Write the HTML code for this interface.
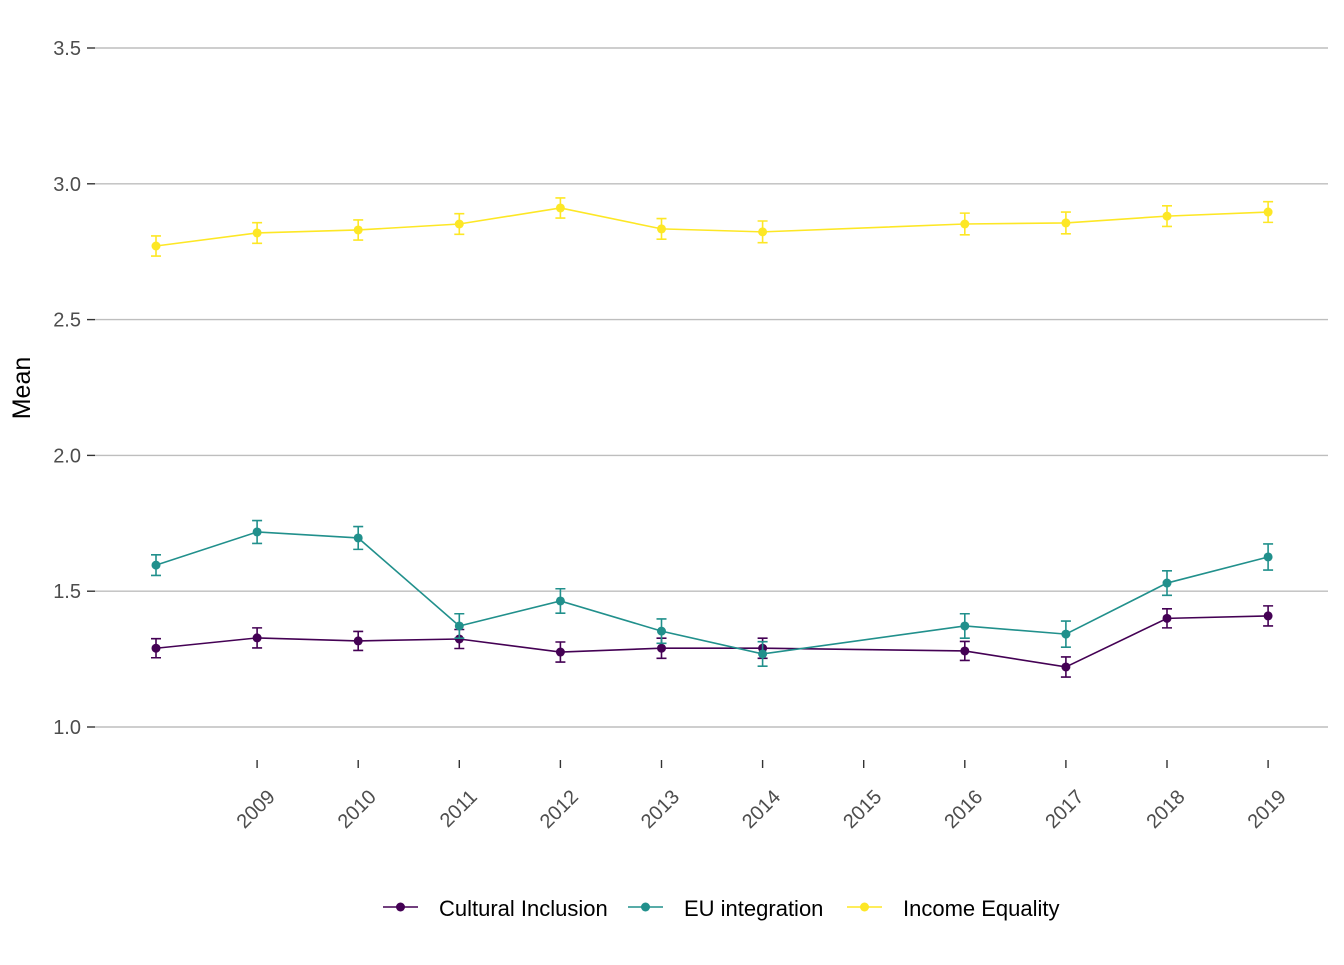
<!DOCTYPE html>
<html><head><meta charset="utf-8"><style>
html,body{margin:0;padding:0;background:#fff;}
svg text{font-family:"Liberation Sans",Arial,sans-serif;}
</style></head><body>
<svg id="chart" width="1344" height="960" viewBox="0 0 1344 960" xmlns="http://www.w3.org/2000/svg">
<g id="grid"></g>
<g id="yaxis"></g>
<g id="xaxis"></g>
<g id="series"></g>
<text x="0" y="0" transform="translate(30,388) rotate(-90)" text-anchor="middle" font-size="25" fill="#000">Mean</text>
<g id="legend"></g>
</svg>
<script>
const years = [2008,2009,2010,2011,2012,2013,2014,2016,2017,2018,2019];
const xTicks = [2009,2010,2011,2012,2013,2014,2015,2016,2017,2018,2019];
const yTicks = [1.0,1.5,2.0,2.5,3.0,3.5];
const seriesNames = ["Cultural Inclusion","EU integration","Income Equality"];
const cultural = [1.29,1.328,1.317,1.324,1.276,1.29,1.29,1.28,1.221,1.40,1.409];
const eu = [1.596,1.718,1.696,1.372,1.464,1.353,1.269,1.372,1.342,1.530,1.626];
const income = [2.771,2.819,2.830,2.852,2.911,2.834,2.823,2.852,2.856,2.881,2.896];
const culturalErr = [0.035,0.037,0.035,0.035,0.037,0.037,0.037,0.035,0.037,0.035,0.037];
const euErr = [0.038,0.042,0.042,0.045,0.045,0.045,0.045,0.045,0.048,0.045,0.048];
const incomeErr = [0.037,0.038,0.037,0.038,0.037,0.038,0.04,0.04,0.04,0.038,0.038];

const NS="http://www.w3.org/2000/svg";
const colors=["#440154","#21908C","#FDE725"];
const x=v=>156+(v-2008)*101.1;
const y=v=>727-(v-1.0)*271.6;
function mk(tag,attrs,parent){const e=document.createElementNS(NS,tag);for(const k in attrs)e.setAttribute(k,attrs[k]);parent.appendChild(e);return e;}
const grid=document.getElementById('grid'),ya=document.getElementById('yaxis'),xa=document.getElementById('xaxis'),sg=document.getElementById('series'),lg=document.getElementById('legend');
yTicks.forEach(t=>{
  const l=mk('line',{x1:95,x2:1328,y1:y(t),y2:y(t),stroke:"#bebebe","stroke-width":1.4},grid);
  
  
  const tk=mk('line',{x1:87,x2:95,y1:y(t),y2:y(t),stroke:"#333","stroke-width":1.4},ya);
  
  
  const tx=mk('text',{x:81,y:y(t)+7,"text-anchor":"end","font-size":20,fill:"#4d4d4d"},ya);
  tx.textContent=t.toFixed(1);
  
  
});
xTicks.forEach(t=>{
  const tk=mk('line',{x1:x(t),x2:x(t),y1:760,y2:768,stroke:"#333","stroke-width":1.4},xa);
  
  
  const tx=mk('text',{x:0,y:0,"text-anchor":"end","font-size":20,fill:"#4d4d4d",transform:`translate(${x(t)+19},${798}) rotate(-45)`},xa);
  tx.textContent=t;
  
  
});
const allVals=[cultural,eu,income],allErr=[culturalErr,euErr,incomeErr];
allVals.forEach((vals,si)=>{
  const g=mk('g',{},sg);
  
  
  const c=colors[si];
  const pl=mk('polyline',{points:vals.map((v,i)=>x(years[i])+','+y(v)).join(' '),fill:"none",stroke:c,"stroke-width":1.6},g);
  
  
  vals.forEach((v,i)=>{
    const e=allErr[si][i],cx=x(years[i]);
    const eb=mk('path',{d:`M${cx-5},${y(v+e)}H${cx+5}M${cx},${y(v+e)}V${y(v-e)}M${cx-5},${y(v-e)}H${cx+5}`,stroke:c,"stroke-width":1.6,fill:"none"},g);
    
    
    const pt=mk('circle',{cx:cx,cy:y(v),r:4.5,fill:c},g);
    
    
  });
});
const lx=[383,628,847];
seriesNames.forEach((n,i)=>{
  const g=mk('g',{},lg);
  
  
  mk('line',{x1:lx[i],x2:lx[i]+35,y1:907,y2:907,stroke:colors[i],"stroke-width":1.6},g);
  mk('circle',{cx:lx[i]+17.5,cy:907,r:4.5,fill:colors[i]},g);
  const t=mk('text',{x:lx[i]+56,y:916,"font-size":22,fill:"#000"},g);
  t.textContent=n;
});
</script>
</body></html>
